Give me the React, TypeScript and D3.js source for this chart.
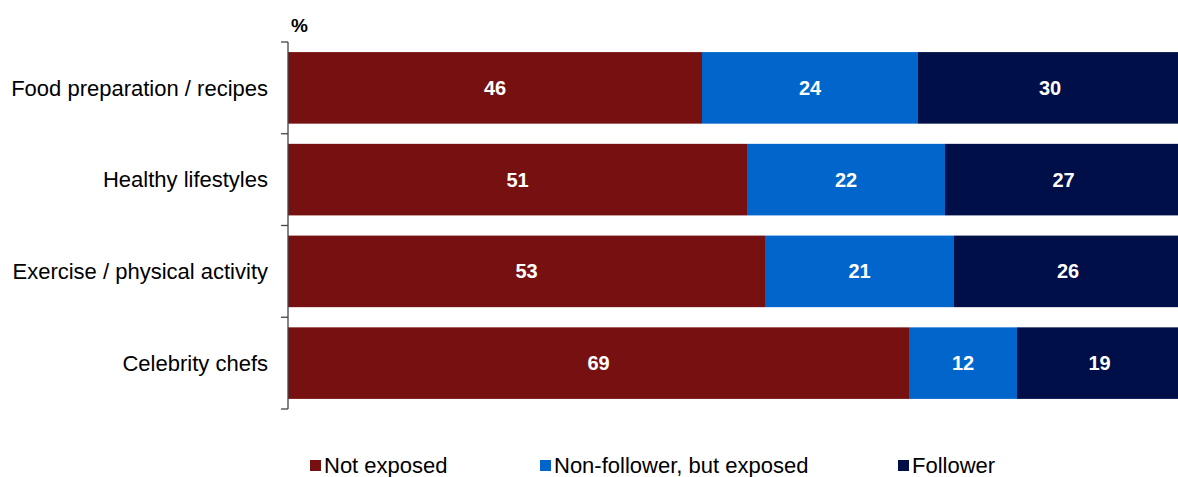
import React from "react";
import * as d3 from "d3";

const categories = ["Food preparation / recipes", "Healthy lifestyles", "Exercise / physical activity", "Celebrity chefs"];
const seriesNames = ["Not exposed", "Non-follower, but exposed", "Follower"];
const notExposed = [46, 51, 53, 69];
const nonFollower = [24, 22, 21, 12];
const follower = [30, 27, 26, 19];
const colors = ["#771111", "#0066CC", "#000F47"];

export default function App() {
  const width = 1178, height = 477;
  const left = 288, top = 42, bottom = 409;
  const x = d3.scaleLinear().domain([0, 100]).range([left, left + 900]);
  const y = d3.scaleBand().domain(categories).range([top, bottom]).paddingInner(0.22).paddingOuter(0.11);
  const series = [notExposed, nonFollower, follower];
  const font = "Liberation Sans, Arial, sans-serif";
  const tickYs = d3.range(categories.length + 1).map(i => top + i * (bottom - top) / categories.length);
  const legendX = [310, 540, 898];
  return (
    <svg width={width} height={height} style={{ position: "absolute", left: 0, top: 0 }} fontFamily={font}>
      <rect width={width} height={height} fill="#fff" />
      {categories.map((c, i) => {
        let acc = 0;
        return (
          <g key={c}>
            {series.map((s, k) => {
              const x0 = x(acc);
              acc += s[i];
              const x1 = x(acc);
              return (
                <g key={k}>
                  <rect x={x0} y={y(c)} width={x1 - x0} height={y.bandwidth()} fill={colors[k]} />
                  <text x={(x0 + Math.min(x1, width)) / 2 + (x1 > width ? 2 : 0)} y={y(c)! + y.bandwidth() / 2} dy="0.35em" textAnchor="middle" fill="#fff" fontWeight="bold" fontSize={20}>{s[i]}</text>
                </g>
              );
            })}
            <text x={268} y={y(c)! + y.bandwidth() / 2} dy="0.35em" textAnchor="end" fontSize={22} fill="#000">{c}</text>
          </g>
        );
      })}
      <line x1={left} x2={left} y1={top} y2={bottom} stroke="#444" strokeWidth={1.3} />
      {tickYs.map((t, i) => (
        <line key={i} x1={left - 7} x2={left} y1={t} y2={t} stroke="#444" strokeWidth={1.3} />
      ))}
      <text x={291} y={32} fontSize={19} fontWeight="bold" fill="#000">%</text>
      {seriesNames.map((n, k) => (
        <g key={n}>
          <rect x={legendX[k]} y={460} width={11} height={11} fill={colors[k]} />
          <text x={legendX[k] + 14} y={465} dy="0.35em" fontSize={22} fill="#000">{n}</text>
        </g>
      ))}
    </svg>
  );
}
